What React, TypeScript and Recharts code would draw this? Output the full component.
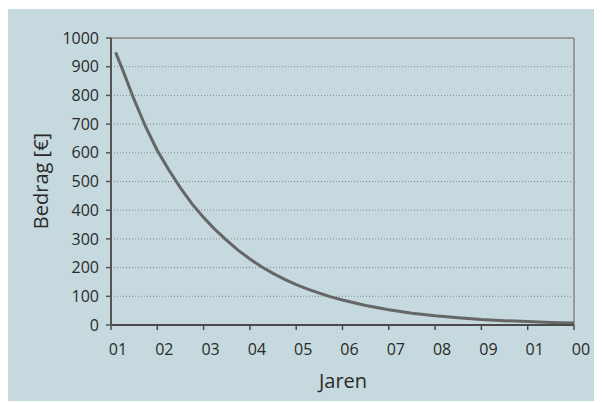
import { CartesianGrid, Label, Line, LineChart, ReferenceLine, XAxis, YAxis } from "recharts";

// years since start
const YEARS = [
  0.1, 0.25, 0.5, 0.75, 1, 1.25, 1.5, 1.75, 2, 2.25, 2.5, 2.75, 3, 3.25, 3.5, 3.75, 4, 4.25, 4.5,
  4.75, 5, 5.5, 6, 6.5, 7, 7.5, 8, 8.5, 9, 9.5, 10,
];
const BEDRAG = [
  950, 890, 785, 690, 608, 540, 478, 422, 375, 332, 295, 260, 230, 203, 180, 159, 141, 125, 111,
  98, 87, 68, 53, 41, 32, 25, 19, 15, 12, 9, 7,
];
const X_TICKS = [0, 1, 2, 3, 4, 5, 6, 7, 8, 9, 10];
const X_LABELS = ["01", "02", "03", "04", "05", "06", "07", "08", "09", "01", "00"];
const Y_TICKS = [0, 100, 200, 300, 400, 500, 600, 700, 800, 900, 1000];

const data = YEARS.map((t, i) => ({ t, bedrag: BEDRAG[i] }));

const FONT = "'Open Sans', sans-serif";
const TEXT = "#2a2a2a";

function XTick(props: any) {
  const { x, y, index } = props;
  return (
    <text x={x + 7} y={y} dy="0.71em" textAnchor="middle" fontFamily={FONT} fontSize={16} fill={TEXT}>
      {X_LABELS[index]}
    </text>
  );
}

export default function App() {
  return (
    <div style={{ marginLeft: -1, marginTop: 1, width: 595, height: 392, background: "#c5d9de" }}>
      <LineChart width={595} height={392} data={data} margin={{ top: 29, right: 28, bottom: 0, left: 0 }}>
        <CartesianGrid vertical={false} stroke="#7f8b8f" strokeDasharray="1 2" />
        <XAxis
          dataKey="t"
          type="number"
          domain={[0, 10]}
          ticks={X_TICKS}
          interval={0}
          height={76}
          tickSize={5}
          tickMargin={14}
          tick={<XTick />}
          axisLine={{ stroke: "#4a4a4a", strokeWidth: 2 }}
          tickLine={{ stroke: "#4a4a4a", strokeWidth: 1.5 }}
        >
          <Label
            content={() => (
              <text x={336} y={379} textAnchor="middle" fontFamily={FONT} fontSize={20} fill={TEXT}>
                Jaren
              </text>
            )}
          />
        </XAxis>
        <YAxis
          domain={[0, 1000]}
          ticks={Y_TICKS}
          interval={0}
          width={104}
          tickSize={5}
          tickMargin={7}
          tick={{ fontFamily: FONT, fontSize: 16, fill: TEXT }}
          axisLine={{ stroke: "#555", strokeWidth: 2 }}
          tickLine={{ stroke: "#555", strokeWidth: 1.5 }}
        >
          <Label
            content={() => (
              <text
                x={33}
                y={172}
                textAnchor="middle"
                dominantBaseline="central"
                transform="rotate(-90 33 172)"
                fontFamily={FONT}
                fontSize={20}
                fill={TEXT}
              >
                Bedrag [€]
              </text>
            )}
          />
        </YAxis>
        <ReferenceLine y={1000} stroke="#9a9a9a" strokeWidth={2} />
        <ReferenceLine x={10} stroke="#9a9a9a" strokeWidth={2} />
        <Line
          dataKey="bedrag"
          type="linear"
          stroke="#666"
          strokeWidth={3}
          dot={false}
          isAnimationActive={false}
        />
      </LineChart>
    </div>
  );
}
